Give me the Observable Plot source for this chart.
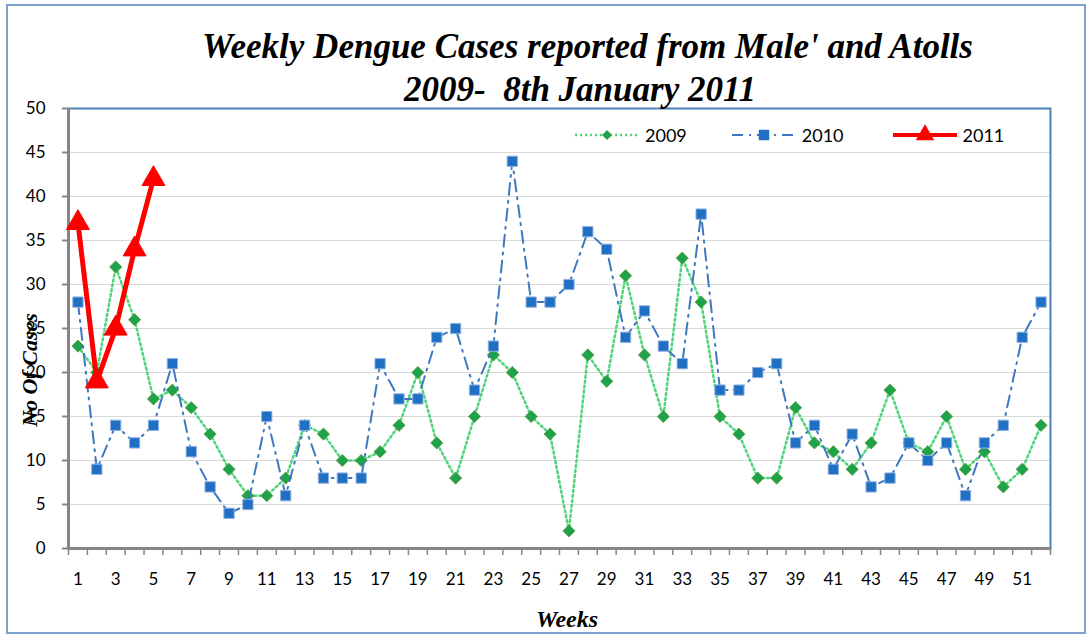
<!DOCTYPE html>
<html><head><meta charset="utf-8">
<script src="https://cdn.jsdelivr.net/npm/d3@7"></script>
<script src="https://cdn.jsdelivr.net/npm/@observablehq/plot@0.6"></script>
<style>
body{margin:0;background:#fff;}
#wrap{position:relative;width:1091px;height:638px;overflow:hidden;font-family:Lato,"Open Sans",sans-serif;background:#fff;}
#frame{position:absolute;left:6px;top:4px;width:1080px;height:630px;border:2px solid #7da2d0;box-sizing:border-box;pointer-events:none;}
#chart{position:absolute;left:0;top:0;}
.serif{position:absolute;font-family:"Liberation Serif","Times New Roman",serif;font-weight:bold;font-style:italic;color:#000;white-space:nowrap;}
#t1{left:0;width:1175px;text-align:center;top:27px;font-size:35px;line-height:40px;}
#t2{left:0;width:1160px;text-align:center;top:70px;font-size:35px;line-height:40px;}
#xl{left:0;width:1134px;text-align:center;top:605px;font-size:24px;line-height:28px;}
#yl{left:30px;top:370px;font-size:22px;line-height:24px;transform:translate(-50%,-50%) rotate(-90deg);}
#legend{position:absolute;top:124px;left:574px;display:flex;align-items:center;font-size:18px;color:#000;}
#legend .item{display:flex;align-items:center;margin-right:0;}
#legend svg{display:block;}
</style>
</head><body>
<div id="wrap">
  <div id="chart"></div>
  <div id="frame"></div>
  <div class="serif" id="t1">Weekly Dengue Cases reported from Male' and Atolls</div>
  <div class="serif" id="t2">2009-&nbsp; 8th January 2011</div>
  <div class="serif" id="xl">Weeks</div>
  <div class="serif" id="yl">No Of Cases</div>
  <div id="legend"></div>
</div>
<script>
const weeks = [1,2,3,4,5,6,7,8,9,10,11,12,13,14,15,16,17,18,19,20,21,22,23,24,25,26,27,28,29,30,31,32,33,34,35,36,37,38,39,40,41,42,43,44,45,46,47,48,49,50,51,52];
const cases2009 = [23,20,32,26,17,18,16,13,9,6,6,8,14,13,10,10,11,14,20,12,8,15,22,20,15,13,2,22,19,31,22,15,33,28,15,13,8,8,16,12,11,9,12,18,12,11,15,9,11,7,9,14];
const cases2010 = [28,9,14,12,14,21,11,7,4,5,15,6,14,8,8,8,21,17,17,24,25,18,23,44,28,28,30,36,34,24,27,23,21,38,18,18,20,21,12,14,9,13,7,8,12,10,12,6,12,14,24,28];
const weeks2011 = [1,2,3,4,5];
const cases2011 = [37,19,25,34,42];
const yTicks = [0,5,10,15,20,25,30,35,40,45,50];
const xTickLabels = [1,3,5,7,9,11,13,15,17,19,21,23,25,27,29,31,33,35,37,39,41,43,45,47,49,51];
const seriesNames = ["2009","2010","2011"];

const d2009 = weeks.map((w,i)=>({week:w, value:cases2009[i]}));
const d2010 = weeks.map((w,i)=>({week:w, value:cases2010[i]}));
const d2011 = weeks2011.map((w,i)=>({week:w, value:cases2011[i]}));
const boundaries = [0,...weeks].map(w=>w+0.5);

const GREEN_LINE = "#4fd47a", GREEN_DOT = "#1ea34a";
const BLUE_LINE = "#3f78c0", BLUE_DOT = "#1f6fc5";
const RED = "#ff0000";
const GREEN_DASH = "2,3";

const chart = Plot.plot({
  width: 1091,
  height: 638,
  marginLeft: 68,
  marginRight: 41,
  marginTop: 108,
  marginBottom: 90,
  style: {fontFamily: "Lato, 'Open Sans', sans-serif", fontSize: "17px", color: "#000", background: "transparent"},
  x: {domain: [0.5, 52.5]},
  y: {domain: [0, 50]},
  marks: [
    Plot.gridY(yTicks, {stroke: "#d9d9d9", strokeOpacity: 1, strokeWidth: 1}),
    Plot.frame({stroke: "#4f81bd", strokeWidth: 2}),
    Plot.axisY(yTicks, {tickSize: 6, tickPadding: 17, stroke: "#868686", strokeWidth: 2, label: null, fill: "#000"}),
    Plot.axisX(boundaries, {tickSize: 7, tickFormat: () => "", stroke: "#868686", strokeWidth: 1.5, label: null}),
    Plot.axisX(xTickLabels, {tickSize: 0, tickPadding: 24, label: null, fill: "#000"}),
    Plot.ruleY([0], {stroke: "#868686", strokeWidth: 3}),
    Plot.ruleX([0.5], {stroke: "#868686", strokeWidth: 3}),
    Plot.line(d2009, {x: "week", y: "value", stroke: GREEN_LINE, strokeWidth: 2.5, strokeDasharray: GREEN_DASH}),
    Plot.dot(d2009, {x: "week", y: "value", symbol: "diamond2", r: 5.5, fill: GREEN_DOT, stroke: "#5c9a3a", strokeWidth: 0.8}),
    Plot.line(d2010, {x: "week", y: "value", stroke: BLUE_LINE, strokeWidth: 2, strokeDasharray: "12,6,2,6"}),
    Plot.dot(d2010, {x: "week", y: "value", symbol: "square", r: 5.8, fill: BLUE_DOT, stroke: "#8fb1de", strokeWidth: 1}),
    Plot.line(d2011, {x: "week", y: "value", stroke: RED, strokeWidth: 5}),
    Plot.dot(d2011, {x: "week", y: "value", symbol: "triangle", r: 8.5, fill: RED, stroke: RED, strokeWidth: 1})
  ]
});
document.getElementById("chart").appendChild(chart);

// legend
const legend = d3.select("#legend");
const styles = [
  {line: GREEN_LINE, width: 2.5, dash: GREEN_DASH, sym: "diamond", fill: GREEN_DOT, size: 70, gap: 44},
  {line: BLUE_LINE, width: 2, dash: "11,6,2,6", sym: "square", fill: BLUE_DOT, size: 110, gap: 48},
  {line: RED, width: 4, dash: null, sym: "triangle", fill: RED, size: 150, gap: 0}
];
seriesNames.forEach((name, i) => {
  const s = styles[i];
  const item = legend.append("div").attr("class","item").style("margin-right", s.gap + "px");
  const svg = item.append("svg").attr("width", 66).attr("height", 22);
  svg.append("line").attr("x1",1).attr("x2",65).attr("y1",11).attr("y2",11)
    .attr("stroke", s.line).attr("stroke-width", s.width).attr("stroke-dasharray", s.dash);
  const sym = s.sym === "diamond" ? d3.symbol(d3.symbolSquare, 50)
            : s.sym === "square" ? d3.symbol(d3.symbolSquare, s.size)
            : d3.symbol(d3.symbolTriangle, s.size);
  svg.append("path").attr("d", sym()).attr("transform", s.sym === "diamond" ? "translate(33,11) rotate(45)" : "translate(33,11)")
    .attr("fill", s.fill);
  item.append("span").text(name).style("margin-left","5px");
});
</script>
</body></html>
